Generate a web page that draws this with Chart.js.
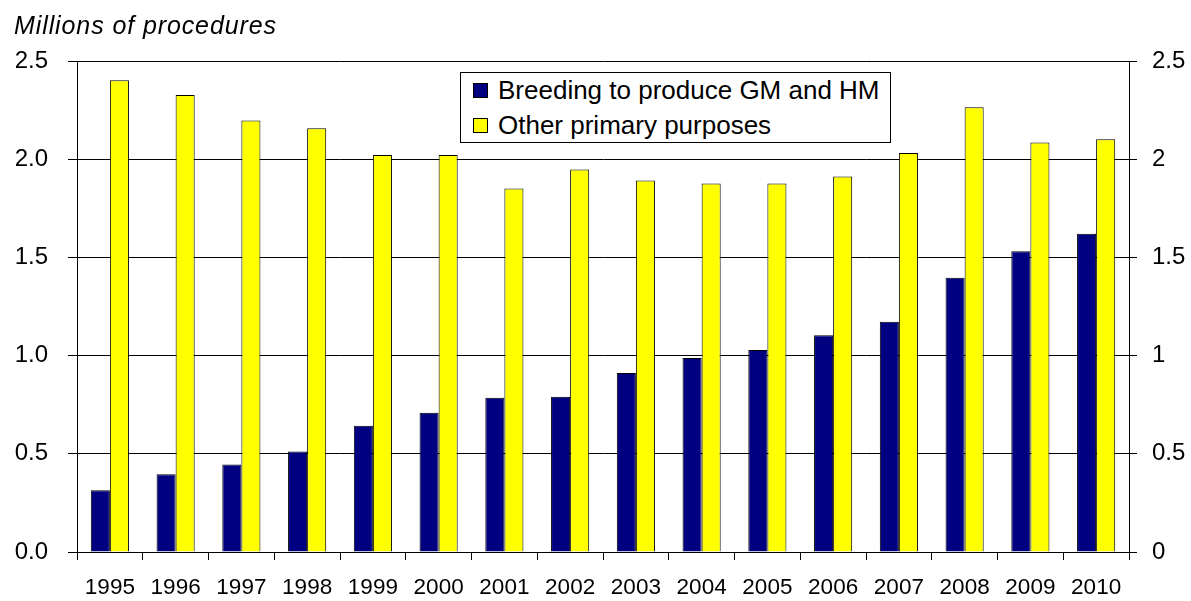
<!DOCTYPE html>
<html>
<head>
<meta charset="utf-8">
<script src="https://cdn.jsdelivr.net/npm/chart.js@4.4.1/dist/chart.umd.min.js"></script>
<style>
  html, body { margin: 0; padding: 0; background: #fff; }
  #wrap { position: relative; width: 1191px; height: 601px; overflow: hidden; font-family: 'Liberation Sans', Arial, sans-serif; }
  #chart { position: absolute; left: 0; top: 0; }
  #title { position: absolute; left: 14px; top: 13px; font-size: 25px; line-height: 25px; font-style: italic; letter-spacing: 0.9px; color: #000; white-space: nowrap; }
  #legend { position: absolute; left: 460px; top: 72px; width: 431px; height: 71px; box-sizing: border-box; border: 1px solid #000; background: #fff; }
  .lrow { position: absolute; left: 0; height: 35px; display: flex; align-items: center; white-space: nowrap; }
  .lbox { position: absolute; left: 12px; width: 15px; height: 15px; box-sizing: border-box; border: 1px solid #000; }
  .ltxt { position: absolute; left: 37px; font-size: 26px; line-height: 35px; color: #000; top: 0; }
</style>
</head>
<body>
<div id="wrap">
  <canvas id="chart" width="1191" height="601"></canvas>
  <div id="title">Millions of procedures</div>
  <div id="legend"></div>
</div>
<script>
const categories = ['1995','1996','1997','1998','1999','2000','2001','2002','2003','2004','2005','2006','2007','2008','2009','2010'];
const breedingGMHM = [0.315, 0.396, 0.446, 0.512, 0.643, 0.709, 0.786, 0.791, 0.912, 0.988, 1.029, 1.104, 1.172, 1.396, 1.531, 1.620];
const otherPrimaryPurposes = [2.402, 2.327, 2.197, 2.158, 2.022, 2.022, 1.851, 1.947, 1.892, 1.876, 1.876, 1.912, 2.032, 2.264, 2.085, 2.102];
const seriesNames = ['Breeding to produce GM and HM', 'Other primary purposes'];
const yTicks = [0, 0.5, 1, 1.5, 2, 2.5];

const FONT = "'Liberation Sans', Arial, sans-serif";

const chart = new Chart(document.getElementById('chart'), {
  type: 'bar',
  data: {
    labels: categories,
    datasets: [
      { label: seriesNames[0], data: breedingGMHM, backgroundColor: '#000080', borderColor: '#000000', borderWidth: 1, yAxisID: 'y' },
      { label: seriesNames[1], data: otherPrimaryPurposes, backgroundColor: '#FFFF00', borderColor: '#000000', borderWidth: 1, yAxisID: 'y' }
    ]
  },
  options: {
    responsive: false,
    animation: false,
    devicePixelRatio: 1,
    layout: { padding: { top: 61, left: 0, right: 0, bottom: 0 } },
    datasets: { bar: { categoryPercentage: 0.58, barPercentage: 1.0 } },
    plugins: { legend: { display: false }, title: { display: false }, tooltip: { enabled: false } },
    scales: {
      x: {
        offset: true,
        grid: { offset: true, drawOnChartArea: false, drawTicks: true, tickLength: 8, color: '#000', lineWidth: 1 },
        border: { display: true, color: '#000', width: 1 },
        ticks: { color: '#000', font: { family: FONT, size: 22.5 }, padding: 14, maxRotation: 0, autoSkip: false },
        afterFit: s => { s.height = 49; }
      },
      y: {
        position: 'left',
        min: yTicks[0], max: yTicks[yTicks.length - 1],
        afterBuildTicks: s => { s.ticks = yTicks.map(v => ({ value: v })); },
        grid: { drawOnChartArea: true, drawTicks: true, tickLength: 9, color: '#000', lineWidth: 1 },
        border: { display: true, color: '#000', width: 1 },
        ticks: { color: '#000', font: { family: FONT, size: 24 }, padding: 20, callback: v => Number(v).toFixed(1) },
        afterFit: s => { s.width = 77; }
      },
      y2: {
        position: 'right',
        min: yTicks[0], max: yTicks[yTicks.length - 1],
        afterBuildTicks: s => { s.ticks = yTicks.map(v => ({ value: v })); },
        grid: { drawOnChartArea: false, drawTicks: true, tickLength: 8, color: '#000', lineWidth: 1 },
        border: { display: true, color: '#000', width: 1 },
        ticks: { color: '#000', font: { family: FONT, size: 24 }, padding: 15, callback: v => String(Number(v)) },
        afterFit: s => { s.width = 62; }
      }
    }
  }
});

// HTML legend built from the chart's datasets
const legend = document.getElementById('legend');
chart.data.datasets.forEach((ds, i) => {
  const row = document.createElement('div');
  row.className = 'lrow';
  row.style.top = (i * 35) + 'px';
  row.style.width = '100%';
  const box = document.createElement('span');
  box.className = 'lbox';
  box.style.background = ds.backgroundColor;
  box.style.top = '10px';
  const txt = document.createElement('span');
  txt.className = 'ltxt';
  txt.textContent = ds.label;
  row.appendChild(box);
  row.appendChild(txt);
  legend.appendChild(row);
});
</script>
</body>
</html>
